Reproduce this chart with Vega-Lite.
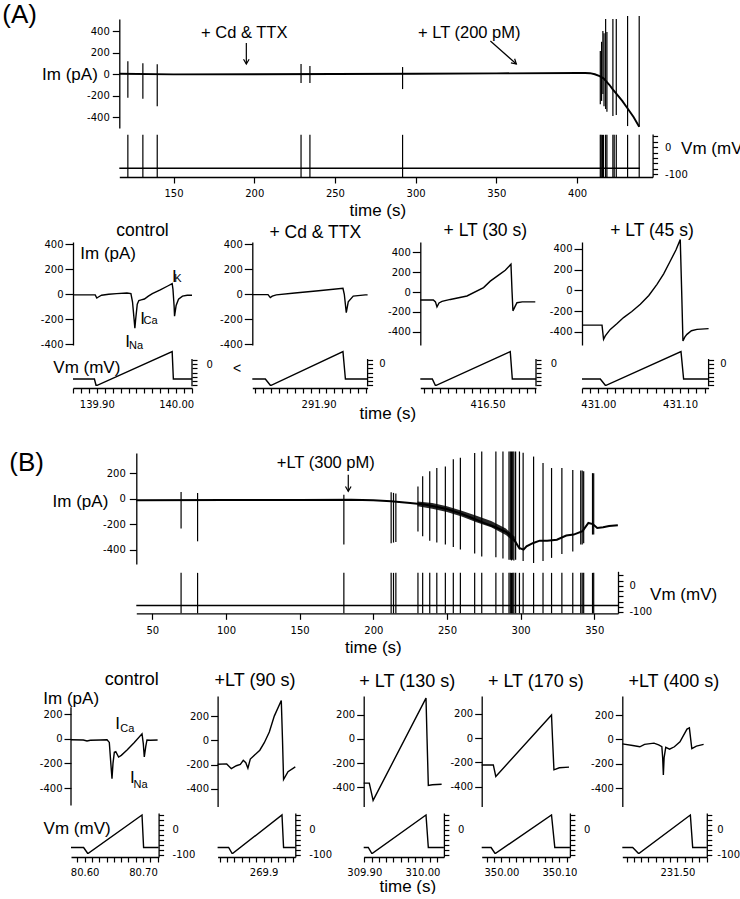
{
"$schema": "https://vega.github.io/schema/vega-lite/v6.json",
"background": "white",
"padding": {"left": 2, "top": 2, "right": 0, "bottom": 0},
"config": {
 "view": {"stroke": null},
 "font": "Liberation Sans",
 "axis": {"grid": false, "domainColor": "#000", "tickColor": "#000", "labelColor": "#000", "titleColor": "#000", "labelFont": "DejaVu Sans", "labelFontSize": 10, "titleFont": "Liberation Sans", "titleFontSize": 17, "titleFontWeight": "normal", "domainWidth": 1.3, "tickWidth": 1.2, "labelBound": false, "labelOverlap": false, "labelFlush": false},
 "line": {"color": "#000", "strokeWidth": 1.4},
 "rule": {"color": "#000", "strokeWidth": 1.2},
 "area": {"color": "#000"},
 "text": {"color": "#000", "font": "Liberation Sans", "fontSize": 17}
},
"datasets": {
 "aTopIm": [{"t":116.4,"v":3},{"t":150,"v":-3},{"t":200,"v":-2},{"t":250,"v":0},{"t":300,"v":3},{"t":350,"v":6},{"t":400,"v":10},{"t":405,"v":10},{"t":408,"v":8},{"t":411,"v":-2},{"t":414,"v":-20},{"t":416.4,"v":-40},{"t":420,"v":-100},{"t":422,"v":-140},{"t":424.7,"v":-189},{"t":428,"v":-250},{"t":431,"v":-313},{"t":435,"v":-400},{"t":438.5,"v":-490}],
 "aTopImSpikes": [{"t":121.7,"v":-220,"v2":120},{"t":131,"v":-230,"v2":100},{"t":139.9,"v":-300,"v2":90},{"t":229,"v":-84,"v2":93},{"t":234.5,"v":-84,"v2":75},{"t":291.9,"v":-140,"v2":65},{"t":414.4,"v":-280,"v2":214},{"t":415.2,"v":-250,"v2":300},{"t":416,"v":-186,"v2":400},{"t":416.7,"v":-300,"v2":380},{"t":417.7,"v":-326,"v2":512},{"t":418.5,"v":-350,"v2":390},{"t":422.2,"v":-390,"v2":512},{"t":424.3,"v":-380,"v2":512},{"t":431.3,"v":-484,"v2":540},{"t":438.5,"v":-490,"v2":540}],
 "aTopVm": [{"t":116.4,"v":-78},{"t":438.9,"v":-78}],
 "aTopVmSpikes": [{"t":121.7,"v":-110,"v2":45},{"t":131,"v":-110,"v2":45},{"t":139.9,"v":-110,"v2":45},{"t":229,"v":-110,"v2":45},{"t":234.5,"v":-110,"v2":45},{"t":291.9,"v":-110,"v2":45},{"t":414.4,"v":-110,"v2":45},{"t":415,"v":-110,"v2":45},{"t":415.8,"v":-110,"v2":45},{"t":416.4,"v":-110,"v2":45},{"t":417.7,"v":-110,"v2":45},{"t":418.5,"v":-110,"v2":45},{"t":422.2,"v":-110,"v2":45},{"t":423,"v":-110,"v2":45},{"t":424.3,"v":-110,"v2":45},{"t":431.3,"v":-110,"v2":45},{"t":438.5,"v":-110,"v2":45}],
 "bTopIm": [{"t":39.1,"v":-12},{"t":100,"v":-10},{"t":150,"v":-10},{"t":185,"v":-8},{"t":200,"v":-12},{"t":212,"v":-20},{"t":225,"v":-35},{"t":235,"v":-47},{"t":245,"v":-70},{"t":251,"v":-86},{"t":260,"v":-120},{"t":267,"v":-152},{"t":275,"v":-190},{"t":283,"v":-225},{"t":290,"v":-260},{"t":293,"v":-290},{"t":296,"v":-330},{"t":299,"v":-387},{"t":302,"v":-400},{"t":304,"v":-375},{"t":308.6,"v":-348},{"t":313,"v":-330},{"t":318,"v":-330},{"t":324.6,"v":-322},{"t":331,"v":-290},{"t":336,"v":-282},{"t":342,"v":-255},{"t":346,"v":-191},{"t":349,"v":-200},{"t":352,"v":-230},{"t":356,"v":-225},{"t":360,"v":-215},{"t":366,"v":-208}],
 "bTopImBand": [{"t":230,"v":-60,"v2":-22},{"t":240,"v":-80,"v2":-35},{"t":250,"v":-105,"v2":-60},{"t":260,"v":-140,"v2":-95},{"t":270,"v":-185,"v2":-135},{"t":280,"v":-225,"v2":-175},{"t":290,"v":-285,"v2":-235},{"t":296,"v":-345,"v2":-300}],
 "bTopImSpikes": [{"t":69.5,"v":-235,"v2":52},{"t":80.7,"v":-335,"v2":44},{"t":180,"v":-360,"v2":30},{"t":212.1,"v":-350,"v2":50},{"t":213.7,"v":-345,"v2":45},{"t":215.3,"v":-340,"v2":40},{"t":230.3,"v":-257,"v2":96},{"t":233.5,"v":-296,"v2":175},{"t":238.3,"v":-330,"v2":214},{"t":243.1,"v":-345,"v2":240},{"t":248.9,"v":-360,"v2":253},{"t":254.3,"v":-380,"v2":308},{"t":259.1,"v":-400,"v2":320},{"t":268.8,"v":-430,"v2":358},{"t":273.6,"v":-455,"v2":370},{"t":283.2,"v":-460,"v2":370},{"t":288,"v":-470,"v2":370},{"t":292.1,"v":-480,"v2":370},{"t":293,"v":-480,"v2":370},{"t":293.8,"v":-485,"v2":370},{"t":294.6,"v":-480,"v2":370},{"t":295.4,"v":-485,"v2":370},{"t":296.6,"v":-480,"v2":370},{"t":299.2,"v":-400,"v2":370},{"t":301.7,"v":-490,"v2":360},{"t":308.8,"v":-505,"v2":330},{"t":315.2,"v":-490,"v2":280},{"t":321,"v":-465,"v2":240},{"t":328,"v":-435,"v2":240},{"t":335.4,"v":-415,"v2":225},{"t":340.8,"v":-360,"v2":220},{"t":341.8,"v":-360,"v2":220},{"t":342.8,"v":-350,"v2":215},{"t":348.8,"v":-282,"v2":200},{"t":349.6,"v":-282,"v2":200}],
 "bTopVm": [{"t":39.1,"v":-75},{"t":366.1,"v":-75}],
 "bTopVmSpikes": [{"t":69.5,"v":-105,"v2":50},{"t":80.7,"v":-105,"v2":50},{"t":180,"v":-105,"v2":50},{"t":212.1,"v":-105,"v2":50},{"t":213.7,"v":-105,"v2":50},{"t":215.3,"v":-105,"v2":50},{"t":230.3,"v":-105,"v2":50},{"t":233.5,"v":-105,"v2":50},{"t":238.3,"v":-105,"v2":50},{"t":243.1,"v":-105,"v2":50},{"t":248.9,"v":-105,"v2":50},{"t":254.3,"v":-105,"v2":50},{"t":259.1,"v":-105,"v2":50},{"t":268.8,"v":-105,"v2":50},{"t":273.6,"v":-105,"v2":50},{"t":283.2,"v":-105,"v2":50},{"t":288,"v":-105,"v2":50},{"t":292.1,"v":-105,"v2":50},{"t":293,"v":-105,"v2":50},{"t":293.8,"v":-105,"v2":50},{"t":294.6,"v":-105,"v2":50},{"t":295.4,"v":-105,"v2":50},{"t":296.6,"v":-105,"v2":50},{"t":299.2,"v":-105,"v2":50},{"t":301.7,"v":-105,"v2":50},{"t":308.8,"v":-105,"v2":50},{"t":315.2,"v":-105,"v2":50},{"t":321,"v":-105,"v2":50},{"t":328,"v":-105,"v2":50},{"t":335.4,"v":-105,"v2":50},{"t":340.8,"v":-105,"v2":50},{"t":341.8,"v":-105,"v2":50},{"t":342.8,"v":-105,"v2":50},{"t":348.8,"v":-105,"v2":50},{"t":349.6,"v":-105,"v2":50}],
 "a1Im": [{"t":139.87,"v":-5},{"t":139.898,"v":-5},{"t":139.9,"v":-30},{"t":139.902,"v":-22},{"t":139.906,"v":-8},{"t":139.915,"v":0},{"t":139.925,"v":5},{"t":139.938,"v":10},{"t":139.943,"v":5},{"t":139.945,"v":-60},{"t":139.947,"v":-200},{"t":139.948,"v":-272},{"t":139.949,"v":-200},{"t":139.951,"v":-80},{"t":139.953,"v":-50},{"t":139.956,"v":-45},{"t":139.96,"v":-38},{"t":139.965,"v":-15},{"t":139.97,"v":5},{"t":139.98,"v":35},{"t":139.99,"v":68},{"t":139.995,"v":85},{"t":139.996,"v":40},{"t":139.9975,"v":-100},{"t":139.998,"v":-175},{"t":140,"v":-90},{"t":140.003,"v":-40},{"t":140.008,"v":-15},{"t":140.014,"v":-8},{"t":140.02,"v":-8}],
 "a1Vm": [{"t":139.87,"v":-70},{"t":139.897,"v":-70},{"t":139.899,"v":-100},{"t":139.9005,"v":-100},{"t":139.995,"v":60},{"t":139.9965,"v":-70},{"t":140.02,"v":-70}],
 "a2Im": [{"t":291.8161,"v":-3},{"t":291.836,"v":-3},{"t":291.8389,"v":-27},{"t":291.8414,"v":-15},{"t":291.8465,"v":-5},{"t":291.87,"v":10},{"t":291.9,"v":28},{"t":291.9309,"v":48},{"t":291.9326,"v":0},{"t":291.9351,"v":-147},{"t":291.9376,"v":-60},{"t":291.9439,"v":-15},{"t":291.9592,"v":-5},{"t":291.9621,"v":-5}],
 "a2Vm": [{"t":291.8161,"v":-70},{"t":291.8326,"v":-70},{"t":291.8389,"v":-100},{"t":291.84,"v":-100},{"t":291.9309,"v":60},{"t":291.934,"v":-70},{"t":291.9621,"v":-70}],
 "a3Im": [{"t":416.4148,"v":-80},{"t":416.4313,"v":-80},{"t":416.434,"v":-100},{"t":416.4359,"v":-150},{"t":416.4385,"v":-110},{"t":416.4423,"v":-95},{"t":416.4528,"v":-75},{"t":416.4739,"v":-40},{"t":416.4949,"v":45},{"t":416.5034,"v":110},{"t":416.5139,"v":170},{"t":416.5224,"v":220},{"t":416.5296,"v":280},{"t":416.531,"v":0},{"t":416.5321,"v":-190},{"t":416.5345,"v":-150},{"t":416.5372,"v":-108},{"t":416.5439,"v":-100},{"t":416.5604,"v":-100}],
 "a3Vm": [{"t":416.4148,"v":-70},{"t":416.43,"v":-70},{"t":416.4338,"v":-100},{"t":416.435,"v":-100},{"t":416.5287,"v":60},{"t":416.5313,"v":-70},{"t":416.5613,"v":-70}],
 "a4Im": [{"t":430.98,"v":-336},{"t":431.0045,"v":-336},{"t":431.0064,"v":-473},{"t":431.0085,"v":-440},{"t":431.0146,"v":-377},{"t":431.023,"v":-320},{"t":431.0309,"v":-263},{"t":431.041,"v":-205},{"t":431.0514,"v":-135},{"t":431.0618,"v":-50},{"t":431.0718,"v":58},{"t":431.08,"v":160},{"t":431.0881,"v":283},{"t":431.095,"v":390},{"t":431.1003,"v":490},{"t":431.102,"v":0},{"t":431.1036,"v":-490},{"t":431.106,"v":-450},{"t":431.1085,"v":-425},{"t":431.114,"v":-390},{"t":431.1208,"v":-377},{"t":431.135,"v":-370}],
 "a4Vm": [{"t":430.98,"v":-70},{"t":431.0024,"v":-70},{"t":431.0085,"v":-100},{"t":431.0095,"v":-100},{"t":431.1012,"v":60},{"t":431.1044,"v":-70},{"t":431.135,"v":-70}],
 "b1Im": [{"t":80.5767,"v":-8},{"t":80.5978,"v":-10},{"t":80.6041,"v":-18},{"t":80.6098,"v":-12},{"t":80.6269,"v":-10},{"t":80.6384,"v":-8},{"t":80.6423,"v":-30},{"t":80.6449,"v":-200},{"t":80.6469,"v":-324},{"t":80.6486,"v":-200},{"t":80.6509,"v":-110},{"t":80.6534,"v":-105},{"t":80.6582,"v":-148},{"t":80.6628,"v":-135},{"t":80.6731,"v":-90},{"t":80.6851,"v":-30},{"t":80.6983,"v":40},{"t":80.7005,"v":-40},{"t":80.7022,"v":-148},{"t":80.7048,"v":-60},{"t":80.7068,"v":-10},{"t":80.7125,"v":-12},{"t":80.725,"v":-10}],
 "b1Vm": [{"t":80.5767,"v":-72},{"t":80.5983,"v":-72},{"t":80.6051,"v":-95},{"t":80.6063,"v":-95},{"t":80.6983,"v":58},{"t":80.701,"v":-72},{"t":80.7267,"v":-72}],
 "b2Im": [{"t":269.8212,"v":-198},{"t":269.8368,"v":-195},{"t":269.8447,"v":-234},{"t":269.8533,"v":-210},{"t":269.8601,"v":-200},{"t":269.8652,"v":-165},{"t":269.8695,"v":-185},{"t":269.8731,"v":-230},{"t":269.8772,"v":-155},{"t":269.8935,"v":-82},{"t":269.9012,"v":-20},{"t":269.9098,"v":68},{"t":269.9183,"v":200},{"t":269.9303,"v":329},{"t":269.9324,"v":0},{"t":269.9342,"v":-324},{"t":269.9418,"v":-260},{"t":269.9543,"v":-220}],
 "b2Vm": [{"t":269.8212,"v":-72},{"t":269.8401,"v":-72},{"t":269.8459,"v":-95},{"t":269.8473,"v":-95},{"t":269.9315,"v":58},{"t":269.9342,"v":-72},{"t":269.9543,"v":-72}],
 "b3Im": [{"t":309.899,"v":-366},{"t":309.9086,"v":-366},{"t":309.9152,"v":-509},{"t":310.0062,"v":336},{"t":310.008,"v":0},{"t":310.0102,"v":-385},{"t":310.0171,"v":-380},{"t":310.0331,"v":-375}],
 "b3Vm": [{"t":309.899,"v":-72},{"t":309.9069,"v":-72},{"t":309.9128,"v":-95},{"t":309.914,"v":-95},{"t":310.0062,"v":58},{"t":310.0102,"v":-72},{"t":310.037,"v":-72}],
 "b4Im": [{"t":349.966,"v":-222},{"t":349.986,"v":-222},{"t":349.9903,"v":-317},{"t":350.0863,"v":190},{"t":350.088,"v":0},{"t":350.0905,"v":-262},{"t":350.0998,"v":-245},{"t":350.1165,"v":-240}],
 "b4Vm": [{"t":349.966,"v":-72},{"t":349.9822,"v":-72},{"t":349.9888,"v":-95},{"t":349.99,"v":-95},{"t":350.0863,"v":58},{"t":350.092,"v":-72},{"t":350.118,"v":-72}],
 "b5Im": [{"t":231.405,"v":-36},{"t":231.4229,"v":-50},{"t":231.4352,"v":-60},{"t":231.4433,"v":-40},{"t":231.4595,"v":-30},{"t":231.4676,"v":-45},{"t":231.4731,"v":-60},{"t":231.4745,"v":-150},{"t":231.4757,"v":-293},{"t":231.477,"v":-150},{"t":231.4798,"v":-65},{"t":231.4864,"v":-80},{"t":231.4947,"v":-60},{"t":231.5043,"v":-20},{"t":231.5164,"v":85},{"t":231.5205,"v":95},{"t":231.5247,"v":-75},{"t":231.5326,"v":-55},{"t":231.545,"v":-40}],
 "b5Vm": [{"t":231.405,"v":-72},{"t":231.4229,"v":-72},{"t":231.4326,"v":-95},{"t":231.434,"v":-95},{"t":231.5222,"v":58},{"t":231.5262,"v":-72},{"t":231.5505,"v":-72}]
},
"bounds": "flush",
"spacing": 65,
"vconcat": [
 {"width": 581.6, "height": 158,
  "resolve": {"scale": {"y": "independent"}, "axis": {"y": "independent"}},
  "layer": [
   {"encoding": {
     "x": {"field": "t", "type": "quantitative", "scale": {"domain": [116.4, 446.8], "range": [48.3, 581.6], "nice": false, "zero": false}, "axis": {"orient": "bottom", "values": [150,200,250,300,350,400], "tickSize": 6, "labelPadding": 5, "title": "time (s)", "titleX": 306.3, "titleY": 33, "titleBaseline": "middle", "titleAlign": "center"}},
     "y": {"field": "v", "type": "quantitative", "scale": {"domain": [-502, 512], "range": [109, 0], "nice": false, "zero": false}, "axis": {"orient": "left", "offset": -48.3, "values": [-400,-200,0,200,400], "labelExpr": "toString(datum.value)", "tickSize": 7, "labelPadding": 3, "title": "Im (pA)", "titleAngle": 0, "titleAlign": "right", "titleBaseline": "middle", "titleX": -22, "titleY": 55}}},
    "layer": [
     {"data": {"name": "aTopIm"}, "mark": {"type": "line", "strokeWidth": 1.9}},
     {"data": {"name": "aTopImSpikes"}, "mark": "rule", "encoding": {"y2": {"field": "v2"}}},
     {"data": {"values": [{"t": 193.8, "v": 381, "label": "+ Cd & TTX"}, {"t": 333.2, "v": 381, "label": "+ LT (200 pM)"}]}, "mark": {"type": "text", "color": "#000", "align": "center", "baseline": "middle", "fontSize": 16.5}, "encoding": {"text": {"field": "label", "type": "nominal"}}},
     {"data": {"values": [{"t": 43.9, "v": 549, "label": "(A)"}]}, "mark": {"type": "text", "color": "#000", "align": "left", "baseline": "middle", "fontSize": 26}, "encoding": {"text": {"field": "label", "type": "nominal"}}},
     {"data": {"values": [{"t": 195.1, "v": 288, "t2": 195.1, "v2": 93}, {"t": 346.3, "v": 307, "t2": 362.4, "v2": 93}]}, "mark": "rule", "encoding": {"x2": {"field": "t2"}, "y2": {"field": "v2"}}},
     {"data": {"values": [{"t": 195.1, "v": 93}]}, "mark": {"type": "point", "shape": "M-0.7,-1.2L0,0L0.7,-1.2", "filled": false, "size": 64, "strokeWidth": 1.2, "color": "#000", "opacity": 1}},
     {"data": {"values": [{"t": 362.4, "v": 93}]}, "mark": {"type": "point", "shape": "M-0.7,-1.2L0,0L0.7,-1.2", "filled": false, "size": 64, "strokeWidth": 1.2, "color": "#000", "opacity": 1, "angle": 311.5}}
    ]},
   {"encoding": {
     "x": {"field": "t", "type": "quantitative", "scale": {"domain": [116.4, 446.8], "range": [48.3, 581.6], "nice": false, "zero": false}, "axis": {"orient": "bottom", "values": [150,200,250,300,350,400], "tickSize": 6, "labelPadding": 5, "title": "time (s)", "titleX": 306.3, "titleY": 33, "titleBaseline": "middle", "titleAlign": "center"}},
     "y": {"field": "v", "type": "quantitative", "scale": {"domain": [-110, 48], "range": [158, 115], "nice": false, "zero": false}, "axis": {"orient": "right", "labelOverlap": false, "values": [-100,-80,-60,-40,-20,0,20,40], "labelExpr": "datum.value==0 ? '0' : (datum.value==-100 ? '-100' : '')", "tickSize": 5, "labelPadding": 7, "title": "Vm (mV)", "titleAngle": 0, "titleAlign": "left", "titleBaseline": "middle", "titleX": 28, "titleY": 129}}},
    "layer": [
     {"data": {"name": "aTopVm"}, "mark": "line"},
     {"data": {"name": "aTopVmSpikes"}, "mark": "rule", "encoding": {"y2": {"field": "v2"}}},
     {"data": {"values": [{"t": 277.48, "v": -798, "label": "0"}, {"t": 383.73, "v": -798, "label": "0"}, {"t": 488.74, "v": -798, "label": "0"}]}, "mark": {"type": "text", "color": "#000", "align": "left", "baseline": "middle", "font": "DejaVu Sans", "fontSize": 10}, "encoding": {"text": {"field": "label", "type": "nominal"}}}
    ]}
  ]
 },
 {"width": 637.6, "height": 146,
  "resolve": {"scale": {"x": "independent", "y": "independent"}, "axis": {"x": "independent", "y": "independent"}},
  "layer": [
   {"resolve": {"scale": {"y": "independent"}, "axis": {"y": "independent"}},
    "layer": [
     {"encoding": {
       "x": {"field": "t", "type": "quantitative", "scale": {"domain": [139.87, 140.02], "range": [2, 121], "nice": false, "zero": false}, "axis": {"orient": "bottom", "values": [139.87,139.88,139.89,139.9,139.91,139.92,139.93,139.94,139.95,139.96,139.97,139.98,139.99,140,140.01,140.02], "labelExpr": "abs(datum.value-139.9)<0.001 ? '139.90' : (abs(datum.value-140)<0.001 ? '140.00' : '')", "labelOverlap": false, "tickSize": 5, "labelPadding": 6, "title": null}},
       "y": {"field": "v", "type": "quantitative", "scale": {"domain": [-406, 418], "range": [103, 0], "nice": false, "zero": false}, "axis": {"orient": "left", "offset": -2, "values": [-400,-200,0,200,400], "labelExpr": "toString(datum.value)", "tickSize": 8, "labelPadding": 2, "title": null}}},
      "layer": [
       {"data": {"name": "a1Im"}, "mark": "line"},
       {"data": {"values": [{"t": 139.9576, "v": 506, "label": "control"}]}, "mark": {"type": "text", "color": "#000", "align": "center", "baseline": "middle", "fontSize": 17.5}, "encoding": {"text": {"field": "label", "type": "nominal"}}},
       {"data": {"values": [{"t": 139.8792, "v": 322, "label": "Im (pA)"}, {"t": 139.936, "v": -382, "label": "I"}, {"t": 139.9549, "v": -194, "label": "I"}, {"t": 139.9948, "v": 138, "label": "I"}]}, "mark": {"type": "text", "color": "#000", "align": "left", "baseline": "middle"}, "encoding": {"text": {"field": "label", "type": "nominal"}}},
       {"data": {"values": [{"t": 139.9407, "v": -414, "label": "Na"}, {"t": 139.959, "v": -214, "label": "Ca"}, {"t": 139.9977, "v": 122, "label": "K"}]}, "mark": {"type": "text", "color": "#000", "align": "left", "baseline": "middle", "fontSize": 11}, "encoding": {"text": {"field": "label", "type": "nominal"}}}
      ]},
     {"encoding": {
       "x": {"field": "t", "type": "quantitative", "scale": {"domain": [139.87, 140.02], "range": [2, 121], "nice": false, "zero": false}, "axis": {"orient": "bottom", "values": [139.87,139.88,139.89,139.9,139.91,139.92,139.93,139.94,139.95,139.96,139.97,139.98,139.99,140,140.01,140.02], "labelExpr": "abs(datum.value-139.9)<0.001 ? '139.90' : (abs(datum.value-140)<0.001 ? '140.00' : '')", "labelOverlap": false, "tickSize": 5, "labelPadding": 6, "title": null}},
       "y": {"field": "v", "type": "quantitative", "scale": {"domain": [-113, 63], "range": [146, 109], "nice": false, "zero": false}, "axis": {"orient": "right", "offset": -516.6, "labelOverlap": false, "values": [-100,-80,-60,-40,-20,0,20], "labelExpr": "datum.value==0 ? '0' : ''", "tickSize": 5, "labelPadding": 9, "domain": false, "title": null}}},
      "layer": [
       {"data": {"name": "a1Vm"}, "mark": "line"},
       {"data": {"values": [{"t": 140.02, "v": -105, "v2": 25}]}, "mark": {"type": "rule", "strokeWidth": 1.3}, "encoding": {"y2": {"field": "v2"}}},
       {"data": {"values": [{"t": 139.8452, "v": -16.6, "label": "Vm (mV)"}]}, "mark": {"type": "text", "color": "#000", "align": "left", "baseline": "middle"}, "encoding": {"text": {"field": "label", "type": "nominal"}}}
      ]}
    ]},
   {"resolve": {"scale": {"y": "independent"}, "axis": {"y": "independent"}},
    "layer": [
     {"encoding": {
       "x": {"field": "t", "type": "quantitative", "scale": {"domain": [291.8161, 291.9621], "range": [181.3, 296.6], "nice": false, "zero": false}, "axis": {"orient": "bottom", "values": [291.82,291.83,291.84,291.85,291.86,291.87,291.88,291.89,291.9,291.91,291.92,291.93,291.94,291.95,291.96], "labelExpr": "abs(datum.value-291.9)<0.001 ? '291.90' : ''", "labelOverlap": false, "tickSize": 5, "labelPadding": 6, "title": null}},
       "y": {"field": "v", "type": "quantitative", "scale": {"domain": [-406, 418], "range": [103, 0], "nice": false, "zero": false}, "axis": {"orient": "left", "offset": -181.3, "values": [-400,-200,0,200,400], "labelExpr": "toString(datum.value)", "tickSize": 8, "labelPadding": 2, "title": null}}},
      "layer": [
       {"data": {"name": "a2Im"}, "mark": "line"},
       {"data": {"values": [{"t": 291.8959, "v": 490, "label": "+ Cd & TTX"}]}, "mark": {"type": "text", "color": "#000", "align": "center", "baseline": "middle", "fontSize": 17.5}, "encoding": {"text": {"field": "label", "type": "nominal"}}}
      ]},
     {"encoding": {
       "x": {"field": "t", "type": "quantitative", "scale": {"domain": [291.8161, 291.9621], "range": [181.3, 296.6], "nice": false, "zero": false}, "axis": {"orient": "bottom", "values": [291.82,291.83,291.84,291.85,291.86,291.87,291.88,291.89,291.9,291.91,291.92,291.93,291.94,291.95,291.96], "labelExpr": "abs(datum.value-291.9)<0.001 ? '291.90' : ''", "labelOverlap": false, "tickSize": 5, "labelPadding": 6, "title": null}},
       "y": {"field": "v", "type": "quantitative", "scale": {"domain": [-113, 63], "range": [146, 109], "nice": false, "zero": false}, "axis": {"orient": "right", "offset": -341, "labels": false, "values": [-100,-80,-60,-40,-20,0,20], "tickSize": 5, "domain": false, "title": null}}},
      "layer": [
       {"data": {"name": "a2Vm"}, "mark": "line"},
       {"data": {"values": [{"t": 291.9621, "v": -105, "v2": 25}]}, "mark": {"type": "rule", "strokeWidth": 1.3}, "encoding": {"y2": {"field": "v2"}}},
       {"data": {"values": [{"t": 291.7967, "v": -23, "label": "<"}]}, "mark": {"type": "text", "color": "#000", "align": "center", "baseline": "middle", "fontSize": 14}, "encoding": {"text": {"field": "label", "type": "nominal"}}}
      ]}
    ]},
   {"resolve": {"scale": {"y": "independent"}, "axis": {"y": "independent"}},
    "layer": [
     {"encoding": {
       "x": {"field": "t", "type": "quantitative", "scale": {"domain": [416.4148, 416.5613], "range": [349.3, 465], "nice": false, "zero": false}, "axis": {"orient": "bottom", "values": [416.42,416.43,416.44,416.45,416.46,416.47,416.48,416.49,416.5,416.51,416.52,416.53,416.54,416.55,416.56], "labelExpr": "abs(datum.value-416.5)<0.001 ? '416.50' : ''", "labelOverlap": false, "tickSize": 5, "labelPadding": 6, "title": "time (s)", "titleX": 316.3, "titleY": 25, "titleBaseline": "middle", "titleAlign": "center"}},
       "y": {"field": "v", "type": "quantitative", "scale": {"domain": [-535, 505], "range": [103, 0], "nice": false, "zero": false}, "axis": {"orient": "left", "offset": -349.3, "values": [-400,-200,0,200,400], "labelExpr": "toString(datum.value)", "tickSize": 8, "labelPadding": 2, "title": null}}},
      "layer": [
       {"data": {"name": "a3Im"}, "mark": "line"},
       {"data": {"values": [{"t": 416.4971, "v": 616, "label": "+ LT (30 s)"}]}, "mark": {"type": "text", "color": "#000", "align": "center", "baseline": "middle", "fontSize": 17.5}, "encoding": {"text": {"field": "label", "type": "nominal"}}}
      ]},
     {"encoding": {
       "x": {"field": "t", "type": "quantitative", "scale": {"domain": [416.4148, 416.5613], "range": [349.3, 465], "nice": false, "zero": false}, "axis": {"orient": "bottom", "values": [416.42,416.43,416.44,416.45,416.46,416.47,416.48,416.49,416.5,416.51,416.52,416.53,416.54,416.55,416.56], "labelExpr": "abs(datum.value-416.5)<0.001 ? '416.50' : ''", "labelOverlap": false, "tickSize": 5, "labelPadding": 6, "title": "time (s)", "titleX": 316.3, "titleY": 25, "titleBaseline": "middle", "titleAlign": "center"}},
       "y": {"field": "v", "type": "quantitative", "scale": {"domain": [-113, 63], "range": [146, 109], "nice": false, "zero": false}, "axis": {"orient": "right", "offset": -172.6, "labels": false, "values": [-100,-80,-60,-40,-20,0,20], "tickSize": 5, "domain": false, "title": null}}},
      "layer": [
       {"data": {"name": "a3Vm"}, "mark": "line"},
       {"data": {"values": [{"t": 416.5613, "v": -105, "v2": 25}]}, "mark": {"type": "rule", "strokeWidth": 1.3}, "encoding": {"y2": {"field": "v2"}}}
      ]}
    ]},
   {"resolve": {"scale": {"y": "independent"}, "axis": {"y": "independent"}},
    "layer": [
     {"encoding": {
       "x": {"field": "t", "type": "quantitative", "scale": {"domain": [430.98, 431.135], "range": [511, 637.6], "nice": false, "zero": false}, "axis": {"orient": "bottom", "values": [430.98,430.99,431,431.01,431.02,431.03,431.04,431.05,431.06,431.07,431.08,431.09,431.1,431.11,431.12,431.13], "labelExpr": "abs(datum.value-431)<0.001 ? '431.00' : (abs(datum.value-431.1)<0.001 ? '431.10' : '')", "labelOverlap": false, "tickSize": 5, "labelPadding": 6, "title": null}},
       "y": {"field": "v", "type": "quantitative", "scale": {"domain": [-528, 467], "range": [103, 0], "nice": false, "zero": false}, "axis": {"orient": "left", "offset": -511, "values": [-400,-200,0,200,400], "labelExpr": "toString(datum.value)", "tickSize": 8, "labelPadding": 2, "title": null}}},
      "layer": [
       {"data": {"name": "a4Im"}, "mark": "line"},
       {"data": {"values": [{"t": 431.0657, "v": 573, "label": "+ LT (45 s)"}]}, "mark": {"type": "text", "color": "#000", "align": "center", "baseline": "middle", "fontSize": 17.5}, "encoding": {"text": {"field": "label", "type": "nominal"}}}
      ]},
     {"encoding": {
       "x": {"field": "t", "type": "quantitative", "scale": {"domain": [430.98, 431.135], "range": [511, 637.6], "nice": false, "zero": false}, "axis": {"orient": "bottom", "values": [430.98,430.99,431,431.01,431.02,431.03,431.04,431.05,431.06,431.07,431.08,431.09,431.1,431.11,431.12,431.13], "labelExpr": "abs(datum.value-431)<0.001 ? '431.00' : (abs(datum.value-431.1)<0.001 ? '431.10' : '')", "labelOverlap": false, "tickSize": 5, "labelPadding": 6, "title": null}},
       "y": {"field": "v", "type": "quantitative", "scale": {"domain": [-113, 63], "range": [146, 109], "nice": false, "zero": false}, "axis": {"orient": "right", "labels": false, "values": [-100,-80,-60,-40,-20,0,20], "tickSize": 5, "domain": false, "title": null}}},
      "layer": [
       {"data": {"name": "a4Vm"}, "mark": "line"},
       {"data": {"values": [{"t": 431.135, "v": -105, "v2": 25}]}, "mark": {"type": "rule", "strokeWidth": 1.3}, "encoding": {"y2": {"field": "v2"}}}
      ]}
    ]}
  ]
 },
 {"width": 547, "height": 160.3,
  "resolve": {"scale": {"y": "independent"}, "axis": {"y": "independent"}},
  "layer": [
   {"encoding": {
     "x": {"field": "t", "type": "quantitative", "scale": {"domain": [39.1, 366.1], "range": [65.3, 547], "nice": false, "zero": false}, "axis": {"orient": "bottom", "values": [50,100,150,200,250,300,350], "tickSize": 6, "labelPadding": 6, "title": "time (s)", "titleX": 301.9, "titleY": 34.4, "titleBaseline": "middle", "titleAlign": "center"}},
     "y": {"field": "v", "type": "quantitative", "scale": {"domain": [-513, 358], "range": [111, 0], "nice": false, "zero": false}, "axis": {"orient": "left", "offset": -65.3, "values": [-400,-200,0,200], "labelExpr": "toString(datum.value)", "tickSize": 7, "labelPadding": 4, "title": "Im (pA)", "titleAngle": 0, "titleAlign": "right", "titleBaseline": "middle", "titleX": -28.5, "titleY": 48.8}}},
    "layer": [
     {"data": {"name": "bTopImBand"}, "mark": {"type": "area", "opacity": 0.85}, "encoding": {"y2": {"field": "v2"}}},
     {"data": {"name": "bTopIm"}, "mark": {"type": "line", "strokeWidth": 2}},
     {"data": {"name": "bTopImSpikes"}, "mark": "rule", "encoding": {"y2": {"field": "v2"}}},
     {"data": {"values": [{"t": 167.7, "v": 279, "label": "+LT (300 pM)"}]}, "mark": {"type": "text", "color": "#000", "align": "center", "baseline": "middle", "fontSize": 16.5}, "encoding": {"text": {"field": "label", "type": "nominal"}}},
     {"data": {"values": [{"t": -47.1, "v": 277, "label": "(B)"}]}, "mark": {"type": "text", "color": "#000", "align": "left", "baseline": "middle", "fontSize": 26}, "encoding": {"text": {"field": "label", "type": "nominal"}}},
     {"data": {"values": [{"t": 183, "v": 188, "v2": 57}]}, "mark": "rule", "encoding": {"y2": {"field": "v2"}}},
     {"data": {"values": [{"t": 183, "v": 57}]}, "mark": {"type": "point", "shape": "M-0.7,-1.2L0,0L0.7,-1.2", "filled": false, "size": 64, "strokeWidth": 1.2, "color": "#000", "opacity": 1}}
    ]},
   {"encoding": {
     "x": {"field": "t", "type": "quantitative", "scale": {"domain": [39.1, 366.1], "range": [65.3, 547], "nice": false, "zero": false}, "axis": {"orient": "bottom", "values": [50,100,150,200,250,300,350], "tickSize": 6, "labelPadding": 6, "title": "time (s)", "titleX": 301.9, "titleY": 34.4, "titleBaseline": "middle", "titleAlign": "center"}},
     "y": {"field": "v", "type": "quantitative", "scale": {"domain": [-105, 56], "range": [160.3, 118.3], "nice": false, "zero": false}, "axis": {"orient": "right", "labelOverlap": false, "values": [-100,-80,-60,-40,-20,0,20,40], "labelExpr": "datum.value==0 ? '0' : (datum.value==-100 ? '-100' : '')", "tickSize": 5, "labelPadding": 6, "title": "Vm (mV)", "titleAngle": 0, "titleAlign": "left", "titleBaseline": "middle", "titleX": 31.6, "titleY": 141}}},
    "layer": [
     {"data": {"name": "bTopVm"}, "mark": "line"},
     {"data": {"name": "bTopVmSpikes"}, "mark": "rule", "encoding": {"y2": {"field": "v2"}}}
    ]}
  ]
 },
 {"width": 635.8, "height": 178,
  "resolve": {"scale": {"x": "independent", "y": "independent"}, "axis": {"x": "independent", "y": "independent"}},
  "layer": [
   {"resolve": {"scale": {"y": "independent"}, "axis": {"y": "independent"}},
    "layer": [
     {"encoding": {
       "x": {"field": "t", "type": "quantitative", "scale": {"domain": [80.5767, 80.7267], "range": [0, 87.6], "nice": false, "zero": false}, "axis": {"orient": "bottom", "values": [80.5875,80.6,80.6125,80.625,80.6375,80.65,80.6625,80.675,80.6875,80.7,80.7125,80.725], "labelExpr": "abs(datum.value-80.6)<0.001 ? '80.60' : (abs(datum.value-80.7)<0.001 ? '80.70' : '')", "labelOverlap": false, "tickSize": 5, "labelPadding": 5, "title": null}},
       "y": {"field": "v", "type": "quantitative", "scale": {"domain": [-549, 346], "range": [127.5, 17], "nice": false, "zero": false}, "axis": {"orient": "left", "values": [-400,-200,0,200], "labelExpr": "toString(datum.value)", "tickSize": 7, "labelPadding": 2, "domain": false, "title": null}}},
      "layer": [
       {"data": {"name": "b1Im"}, "mark": "line"},
       {"data": {"values": [{"t": 80.5767, "v": -540, "v2": 255}]}, "mark": {"type": "rule", "strokeWidth": 1.3}, "encoding": {"y2": {"field": "v2"}}},
       {"data": {"values": [{"t": 80.6808, "v": 473, "label": "control"}]}, "mark": {"type": "text", "color": "#000", "align": "center", "baseline": "middle", "fontSize": 18}, "encoding": {"text": {"field": "label", "type": "nominal"}}},
       {"data": {"values": [{"t": 80.5293, "v": 324, "label": "Im (pA)"}, {"t": 80.6526, "v": 119, "label": "I"}, {"t": 80.6779, "v": -318, "label": "I"}]}, "mark": {"type": "text", "color": "#000", "align": "left", "baseline": "middle"}, "encoding": {"text": {"field": "label", "type": "nominal"}}},
       {"data": {"values": [{"t": 80.6611, "v": 81, "label": "Ca"}, {"t": 80.6839, "v": -377, "label": "Na"}]}, "mark": {"type": "text", "color": "#000", "align": "left", "baseline": "middle", "fontSize": 11}, "encoding": {"text": {"field": "label", "type": "nominal"}}}
      ]},
     {"encoding": {
       "x": {"field": "t", "type": "quantitative", "scale": {"domain": [80.5767, 80.7267], "range": [0, 87.6], "nice": false, "zero": false}, "axis": {"orient": "bottom", "values": [80.5875,80.6,80.6125,80.625,80.6375,80.65,80.6625,80.675,80.6875,80.7,80.7125,80.725], "labelExpr": "abs(datum.value-80.6)<0.001 ? '80.60' : (abs(datum.value-80.7)<0.001 ? '80.70' : '')", "labelOverlap": false, "tickSize": 5, "labelPadding": 5, "title": null}},
       "y": {"field": "v", "type": "quantitative", "scale": {"domain": [-110, 66], "range": [178, 134], "nice": false, "zero": false}, "axis": {"orient": "right", "offset": -548.2, "labelOverlap": false, "values": [-100,-80,-60,-40,-20,0,20,40,60], "labelExpr": "datum.value==0 ? '0' : (datum.value==-100 ? '-100' : '')", "tickSize": 5, "labelPadding": 8.5, "title": null}}},
      "layer": [
       {"data": {"name": "b1Vm"}, "mark": "line"},
       {"data": {"values": [{"t": 80.5298, "v": 3, "label": "Vm (mV)"}]}, "mark": {"type": "text", "color": "#000", "align": "left", "baseline": "middle"}, "encoding": {"text": {"field": "label", "type": "nominal"}}}
      ]}
    ]},
   {"resolve": {"scale": {"y": "independent"}, "axis": {"y": "independent"}},
    "layer": [
     {"encoding": {
       "x": {"field": "t", "type": "quantitative", "scale": {"domain": [269.8212, 269.9543], "range": [146.6, 224.3], "nice": false, "zero": false}, "axis": {"orient": "bottom", "values": [269.825,269.8375,269.85,269.8625,269.875,269.8875,269.9,269.9125,269.925,269.9375,269.95], "labelExpr": "abs(datum.value-269.9)<0.001 ? '269.9' : ''", "labelOverlap": false, "tickSize": 5, "labelPadding": 5, "title": null}},
       "y": {"field": "v", "type": "quantitative", "scale": {"domain": [-547, 366], "range": [127.5, 17], "nice": false, "zero": false}, "axis": {"orient": "left", "offset": -146.6, "values": [-400,-200,0,200], "labelExpr": "toString(datum.value)", "tickSize": 7, "labelPadding": 2, "title": null}}},
      "layer": [
       {"data": {"name": "b2Im"}, "mark": "line"},
       {"data": {"values": [{"t": 269.8853, "v": 488, "label": "+LT (90 s)"}]}, "mark": {"type": "text", "color": "#000", "align": "center", "baseline": "middle", "fontSize": 18}, "encoding": {"text": {"field": "label", "type": "nominal"}}}
      ]},
     {"encoding": {
       "x": {"field": "t", "type": "quantitative", "scale": {"domain": [269.8212, 269.9543], "range": [146.6, 224.3], "nice": false, "zero": false}, "axis": {"orient": "bottom", "values": [269.825,269.8375,269.85,269.8625,269.875,269.8875,269.9,269.9125,269.925,269.9375,269.95], "labelExpr": "abs(datum.value-269.9)<0.001 ? '269.9' : ''", "labelOverlap": false, "tickSize": 5, "labelPadding": 5, "title": null}},
       "y": {"field": "v", "type": "quantitative", "scale": {"domain": [-110, 66], "range": [178, 134], "nice": false, "zero": false}, "axis": {"orient": "right", "offset": -411.5, "labelOverlap": false, "values": [-100,-80,-60,-40,-20,0,20,40,60], "labelExpr": "datum.value==0 ? '0' : (datum.value==-100 ? '-100' : '')", "tickSize": 5, "labelPadding": 8.5, "title": null}}},
      "layer": [
       {"data": {"name": "b2Vm"}, "mark": "line"}
      ]}
    ]},
   {"resolve": {"scale": {"y": "independent"}, "axis": {"y": "independent"}},
    "layer": [
     {"encoding": {
       "x": {"field": "t", "type": "quantitative", "scale": {"domain": [309.899, 310.037], "range": [292.7, 372.9], "nice": false, "zero": false}, "axis": {"orient": "bottom", "values": [309.9,309.9125,309.925,309.9375,309.95,309.9625,309.975,309.9875,310,310.0125,310.025], "labelExpr": "abs(datum.value-309.9)<0.001 ? '309.90' : (abs(datum.value-310)<0.001 ? '310.00' : '')", "labelOverlap": false, "tickSize": 5, "labelPadding": 5, "title": "time (s)", "titleX": 336.3, "titleY": 29, "titleBaseline": "middle", "titleAlign": "center"}},
       "y": {"field": "v", "type": "quantitative", "scale": {"domain": [-559, 353], "range": [127.5, 17], "nice": false, "zero": false}, "axis": {"orient": "left", "offset": -292.7, "values": [-400,-200,0,200], "labelExpr": "toString(datum.value)", "tickSize": 7, "labelPadding": 2, "title": null}}},
      "layer": [
       {"data": {"name": "b3Im"}, "mark": "line"},
       {"data": {"values": [{"t": 309.974, "v": 469, "label": "+ LT (130 s)"}]}, "mark": {"type": "text", "color": "#000", "align": "center", "baseline": "middle", "fontSize": 18}, "encoding": {"text": {"field": "label", "type": "nominal"}}}
      ]},
     {"encoding": {
       "x": {"field": "t", "type": "quantitative", "scale": {"domain": [309.899, 310.037], "range": [292.7, 372.9], "nice": false, "zero": false}, "axis": {"orient": "bottom", "values": [309.9,309.9125,309.925,309.9375,309.95,309.9625,309.975,309.9875,310,310.0125,310.025], "labelExpr": "abs(datum.value-309.9)<0.001 ? '309.90' : (abs(datum.value-310)<0.001 ? '310.00' : '')", "labelOverlap": false, "tickSize": 5, "labelPadding": 5, "title": "time (s)", "titleX": 336.3, "titleY": 29, "titleBaseline": "middle", "titleAlign": "center"}},
       "y": {"field": "v", "type": "quantitative", "scale": {"domain": [-110, 66], "range": [178, 134], "nice": false, "zero": false}, "axis": {"orient": "right", "offset": -262.9, "labelOverlap": false, "values": [-100,-80,-60,-40,-20,0,20,40,60], "labelExpr": "datum.value==0 ? '0' : ''", "tickSize": 5, "labelPadding": 8.5, "title": null}}},
      "layer": [
       {"data": {"name": "b3Vm"}, "mark": "line"}
      ]}
    ]},
   {"resolve": {"scale": {"y": "independent"}, "axis": {"y": "independent"}},
    "layer": [
     {"encoding": {
       "x": {"field": "t", "type": "quantitative", "scale": {"domain": [349.966, 350.118], "range": [410.7, 498.9], "nice": false, "zero": false}, "axis": {"orient": "bottom", "values": [349.975,349.9875,350,350.0125,350.025,350.0375,350.05,350.0625,350.075,350.0875,350.1,350.1125], "labelExpr": "abs(datum.value-350)<0.001 ? '350.00' : (abs(datum.value-350.1)<0.001 ? '350.10' : '')", "labelOverlap": false, "tickSize": 5, "labelPadding": 5, "title": null}},
       "y": {"field": "v", "type": "quantitative", "scale": {"domain": [-564, 346], "range": [127.5, 17], "nice": false, "zero": false}, "axis": {"orient": "left", "offset": -410.7, "values": [-400,-200,0,200], "labelExpr": "toString(datum.value)", "tickSize": 7, "labelPadding": 2, "title": null}}},
      "layer": [
       {"data": {"name": "b4Im"}, "mark": "line"},
       {"data": {"values": [{"t": 350.0593, "v": 461, "label": "+ LT (170 s)"}]}, "mark": {"type": "text", "color": "#000", "align": "center", "baseline": "middle", "fontSize": 18}, "encoding": {"text": {"field": "label", "type": "nominal"}}}
      ]},
     {"encoding": {
       "x": {"field": "t", "type": "quantitative", "scale": {"domain": [349.966, 350.118], "range": [410.7, 498.9], "nice": false, "zero": false}, "axis": {"orient": "bottom", "values": [349.975,349.9875,350,350.0125,350.025,350.0375,350.05,350.0625,350.075,350.0875,350.1,350.1125], "labelExpr": "abs(datum.value-350)<0.001 ? '350.00' : (abs(datum.value-350.1)<0.001 ? '350.10' : '')", "labelOverlap": false, "tickSize": 5, "labelPadding": 5, "title": null}},
       "y": {"field": "v", "type": "quantitative", "scale": {"domain": [-110, 66], "range": [178, 134], "nice": false, "zero": false}, "axis": {"orient": "right", "offset": -136.9, "labelOverlap": false, "values": [-100,-80,-60,-40,-20,0,20,40,60], "labelExpr": "datum.value==0 ? '0' : ''", "tickSize": 5, "labelPadding": 8.5, "title": null}}},
      "layer": [
       {"data": {"name": "b4Vm"}, "mark": "line"}
      ]}
    ]},
   {"resolve": {"scale": {"y": "independent"}, "axis": {"y": "independent"}},
    "layer": [
     {"encoding": {
       "x": {"field": "t", "type": "quantitative", "scale": {"domain": [231.405, 231.5505], "range": [551.3, 635.8], "nice": false, "zero": false}, "axis": {"orient": "bottom", "values": [231.4125,231.425,231.4375,231.45,231.4625,231.475,231.4875,231.5,231.5125,231.525,231.5375,231.55], "labelExpr": "abs(datum.value-231.5)<0.001 ? '231.50' : ''", "labelOverlap": false, "tickSize": 5, "labelPadding": 5, "title": null}},
       "y": {"field": "v", "type": "quantitative", "scale": {"domain": [-552, 358], "range": [127.5, 17], "nice": false, "zero": false}, "axis": {"orient": "left", "offset": -551.3, "values": [-400,-200,0,200], "labelExpr": "toString(datum.value)", "tickSize": 7, "labelPadding": 2, "title": null}}},
      "layer": [
       {"data": {"name": "b5Im"}, "mark": "line"},
       {"data": {"values": [{"t": 231.4938, "v": 474, "label": "+LT (400 s)"}]}, "mark": {"type": "text", "color": "#000", "align": "center", "baseline": "middle", "fontSize": 18}, "encoding": {"text": {"field": "label", "type": "nominal"}}}
      ]},
     {"encoding": {
       "x": {"field": "t", "type": "quantitative", "scale": {"domain": [231.405, 231.5505], "range": [551.3, 635.8], "nice": false, "zero": false}, "axis": {"orient": "bottom", "values": [231.4125,231.425,231.4375,231.45,231.4625,231.475,231.4875,231.5,231.5125,231.525,231.5375,231.55], "labelExpr": "abs(datum.value-231.5)<0.001 ? '231.50' : ''", "labelOverlap": false, "tickSize": 5, "labelPadding": 5, "title": null}},
       "y": {"field": "v", "type": "quantitative", "scale": {"domain": [-110, 66], "range": [178, 134], "nice": false, "zero": false}, "axis": {"orient": "right", "labelOverlap": false, "values": [-100,-80,-60,-40,-20,0,20,40,60], "labelExpr": "datum.value==0 ? '0' : (datum.value==-100 ? '-100' : '')", "tickSize": 5, "labelPadding": 5, "title": null}}},
      "layer": [
       {"data": {"name": "b5Vm"}, "mark": "line"}
      ]}
    ]}
  ]
 }
]
}
